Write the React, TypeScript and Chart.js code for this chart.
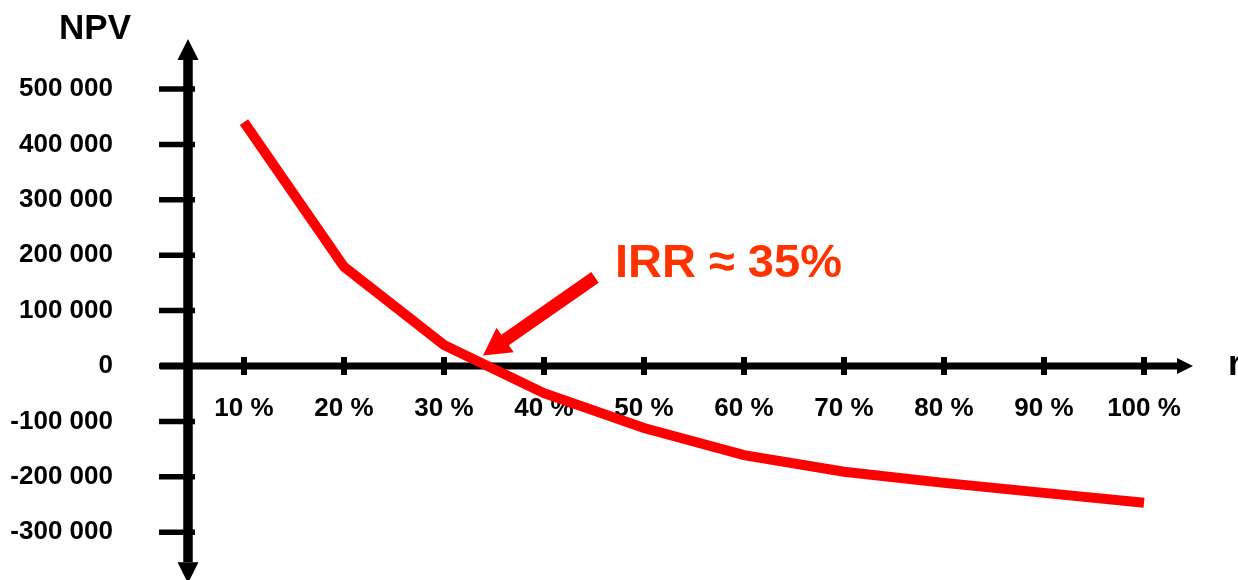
import React, { useEffect, useRef } from 'react';
import { Chart, registerables } from 'chart.js';

Chart.register(...registerables);

// ---- data ----
const rates = [10, 20, 30, 40, 50, 60, 70, 80, 90, 100];
const npvValues = [440000, 179000, 38000, -49000, -112000, -161000, -191000, -211000, -229000, -247000];

const xTicks = [10, 20, 30, 40, 50, 60, 70, 80, 90, 100];
const xTickLabels = ['10 %', '20 %', '30 %', '40 %', '50 %', '60 %', '70 %', '80 %', '90 %', '100 %'];
const yTicks = [-300000, -200000, -100000, 0, 100000, 200000, 300000, 400000, 500000];
const yTickLabels = ['-300 000', '-200 000', '-100 000', '0', '100 000', '200 000', '300 000', '400 000', '500 000'];

const yTitle = 'NPV';
const xTitle = 'r';
const irrLabel = 'IRR ≈ 35%';

// axis ranges (data units)
const xRange = [4.4, 109.4];
const yRange = [-386300, 660600];
// extents of the drawn axis arrows (data units)
const xAxisExtent = [1.6, 104.9];
const yAxisExtent = [-392000, 590000];

// annotation anchors (data units)
const arrowTip = { x: 33.9, y: 19000 };
const arrowTail = { x: 45.1, y: 160000 };
const labelAnchor = { x: 47.1, y: 160000 };

const FONT = "'Liberation Sans', Arial, Helvetica, sans-serif";
const RED = '#ff0000';
const LABEL_RED = '#ff3300';

const axesPlugin = {
  id: 'customAxes',
  beforeDatasetsDraw(chart: any) {
    const { ctx } = chart;
    const xs = chart.scales.x;
    const ys = chart.scales.y;
    const x0 = xs.getPixelForValue(xRange[0]);
    const y0 = ys.getPixelForValue(0);
    ctx.save();
    ctx.fillStyle = '#000';
    ctx.strokeStyle = '#000';
    ctx.lineCap = 'butt';

    // vertical axis
    const yTop = ys.getPixelForValue(yAxisExtent[1]);
    const yBot = ys.getPixelForValue(yAxisExtent[0]);
    const ah = 21;
    const aw = 10.5;
    ctx.lineWidth = 9.5;
    ctx.beginPath();
    ctx.moveTo(x0, yTop + ah);
    ctx.lineTo(x0, yBot - ah);
    ctx.stroke();
    ctx.beginPath();
    ctx.moveTo(x0, yTop);
    ctx.lineTo(x0 + aw, yTop + ah);
    ctx.lineTo(x0 - aw, yTop + ah);
    ctx.closePath();
    ctx.fill();
    ctx.beginPath();
    ctx.moveTo(x0, yBot);
    ctx.lineTo(x0 + aw, yBot - ah);
    ctx.lineTo(x0 - aw, yBot - ah);
    ctx.closePath();
    ctx.fill();

    // y tick marks
    ctx.lineWidth = 5.5;
    yTicks.forEach((v) => {
      const py = ys.getPixelForValue(v);
      ctx.beginPath();
      ctx.moveTo(x0 - 29, py);
      ctx.lineTo(x0 + 7, py);
      ctx.stroke();
    });

    // horizontal axis
    const xl = xs.getPixelForValue(xAxisExtent[0]);
    const xr = xs.getPixelForValue(xAxisExtent[1]);
    const hl = 16;
    const hw = 8;
    ctx.lineWidth = 7;
    ctx.beginPath();
    ctx.moveTo(xl, y0);
    ctx.lineTo(xr - hl, y0);
    ctx.stroke();
    ctx.beginPath();
    ctx.moveTo(xr, y0);
    ctx.lineTo(xr - hl, y0 - hw);
    ctx.lineTo(xr - hl, y0 + hw);
    ctx.closePath();
    ctx.fill();

    // x tick marks and labels
    ctx.lineWidth = 6;
    ctx.font = `bold 26px ${FONT}`;
    ctx.textAlign = 'center';
    ctx.textBaseline = 'middle';
    xTicks.forEach((v, i) => {
      const px = xs.getPixelForValue(v);
      ctx.beginPath();
      ctx.moveTo(px, y0 - 9);
      ctx.lineTo(px, y0 + 9);
      ctx.stroke();
      ctx.fillText(xTickLabels[i], px, y0 + 43);
    });

    // axis titles
    ctx.font = `bold 35px ${FONT}`;
    ctx.textBaseline = 'alphabetic';
    ctx.textAlign = 'right';
    ctx.fillText(yTitle, x0 - 57, yTop);
    ctx.textAlign = 'left';
    ctx.fillText(xTitle, xr + 35, y0 + 9);
    ctx.restore();
  },
  afterDraw(chart: any) {
    const { ctx } = chart;
    const xs = chart.scales.x;
    const ys = chart.scales.y;
    const tx = xs.getPixelForValue(arrowTip.x);
    const ty = ys.getPixelForValue(arrowTip.y);
    const sx = xs.getPixelForValue(arrowTail.x);
    const sy = ys.getPixelForValue(arrowTail.y);
    const dx = tx - sx;
    const dy = ty - sy;
    const len = Math.hypot(dx, dy);
    const ux = dx / len;
    const uy = dy / len;
    const nx = -uy;
    const ny = ux;
    const headLen = 27;
    const headHalf = 15;
    const shaftHalf = 6.5;
    const bx = tx - ux * headLen;
    const by = ty - uy * headLen;
    ctx.save();
    ctx.fillStyle = RED;
    ctx.beginPath();
    ctx.moveTo(sx + nx * shaftHalf, sy + ny * shaftHalf);
    ctx.lineTo(bx + nx * shaftHalf, by + ny * shaftHalf);
    ctx.lineTo(bx + nx * headHalf, by + ny * headHalf);
    ctx.lineTo(tx, ty);
    ctx.lineTo(bx - nx * headHalf, by - ny * headHalf);
    ctx.lineTo(bx - nx * shaftHalf, by - ny * shaftHalf);
    ctx.lineTo(sx - nx * shaftHalf, sy - ny * shaftHalf);
    ctx.closePath();
    ctx.fill();

    ctx.fillStyle = LABEL_RED;
    ctx.font = `bold 47px ${FONT}`;
    ctx.textAlign = 'left';
    ctx.textBaseline = 'alphabetic';
    ctx.fillText(irrLabel, xs.getPixelForValue(labelAnchor.x), ys.getPixelForValue(labelAnchor.y));
    ctx.restore();
  },
};

export default function App() {
  const canvasRef = useRef<HTMLCanvasElement | null>(null);

  useEffect(() => {
    document.body.style.margin = '0';
    const canvas = canvasRef.current;
    if (!canvas) return;
    const chart = new Chart(canvas, {
      type: 'line',
      data: {
        datasets: [
          {
            label: 'NPV',
            data: rates.map((r, i) => ({ x: r, y: npvValues[i] })),
            borderColor: RED,
            backgroundColor: RED,
            borderWidth: 10,
            borderCapStyle: 'butt',
            borderJoinStyle: 'miter',
            pointRadius: 0,
            tension: 0,
            fill: false,
            clip: false,
          },
        ],
      },
      options: {
        animation: false,
        responsive: false,
        devicePixelRatio: 1,
        layout: { padding: 0 },
        plugins: {
          legend: { display: false },
          tooltip: { enabled: false },
          title: { display: false },
        },
        scales: {
          x: {
            type: 'linear',
            display: false,
            min: xRange[0],
            max: xRange[1],
          },
          y: {
            type: 'linear',
            position: 'left',
            min: yRange[0],
            max: yRange[1],
            afterBuildTicks: (s: any) => {
              s.ticks = yTicks.map((value) => ({ value }));
            },
            afterFit: (s: any) => {
              s.width = 188;
              s.paddingTop = 0;
              s.paddingBottom = 0;
            },
            grid: { display: false, drawTicks: false },
            border: { display: false },
            ticks: {
              autoSkip: false,
              padding: 75,
              color: '#000',
              font: { family: FONT, size: 26, weight: 'bold' },
              callback: (v: any) => {
                const i = yTicks.indexOf(Number(v));
                return i >= 0 ? yTickLabels[i] : '';
              },
            },
          },
        },
      } as any,
      plugins: [axesPlugin],
    });
    return () => chart.destroy();
  }, []);

  return (
    <div style={{ width: 1238, height: 580, position: 'relative', background: '#fff' }}>
      <canvas ref={canvasRef} width={1238} height={580} style={{ display: 'block' }} />
    </div>
  );
}
